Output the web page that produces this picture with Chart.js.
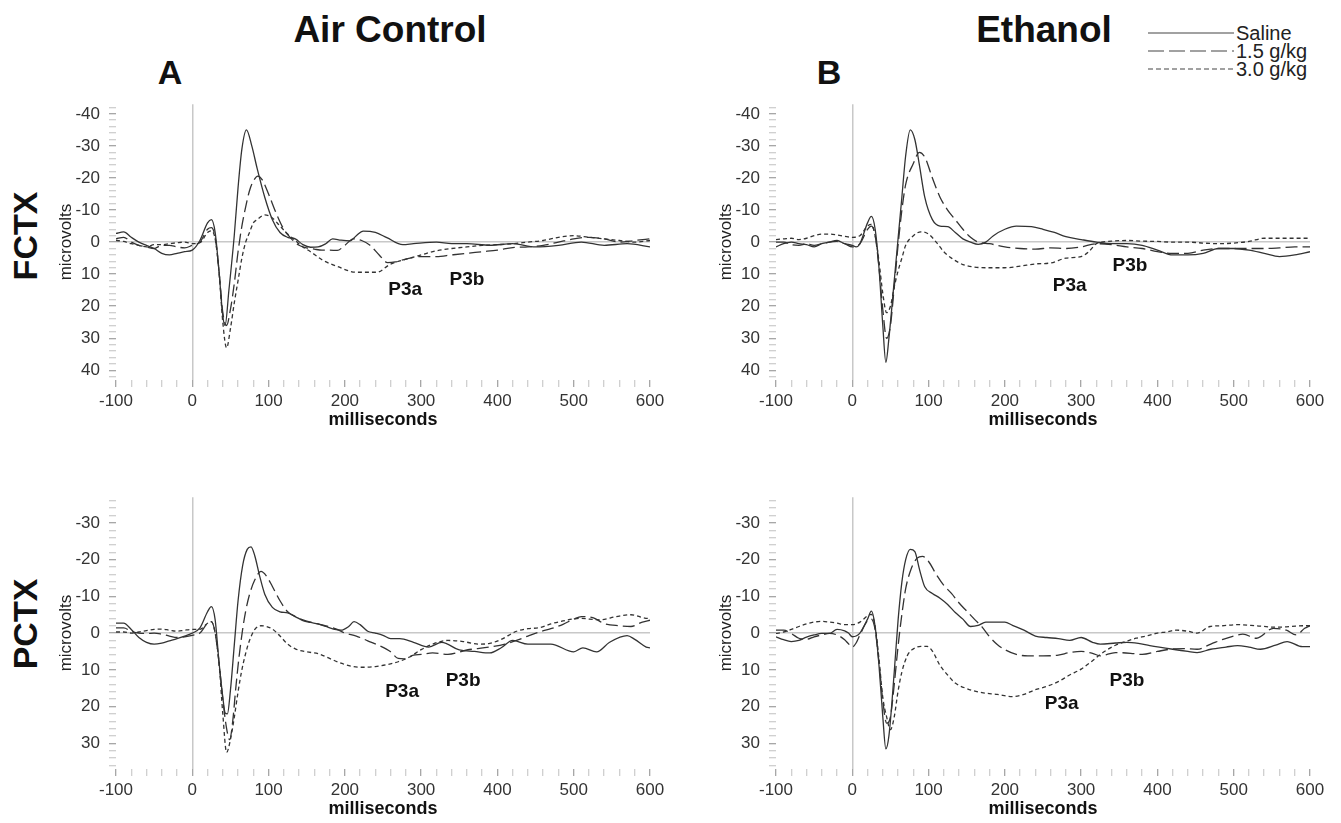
<!DOCTYPE html>
<html>
<head>
<meta charset="utf-8">
<script src="https://cdn.jsdelivr.net/npm/chart.js"></script>
<style>
  body { margin: 0; width: 1341px; height: 823px; background: #fff; position: relative; overflow: hidden;
         font-family: "Liberation Sans", Arial, sans-serif; color: #111; }
  canvas { position: absolute; }
  .t { position: absolute; white-space: nowrap; transform: translate(-50%, -50%); font-weight: bold; }
  .rot { transform: translate(-50%, -50%) rotate(-90deg); }
  .leg { position: absolute; font-size: 20px; color: #222; transform: translateY(-50%); white-space: nowrap; }
</style>
</head>
<body>
<div class="t" style="left:390px;top:30px;font-size:37px">Air Control</div>
<div class="t" style="left:1044px;top:30px;font-size:37px">Ethanol</div>
<div class="t" style="left:170px;top:72px;font-size:34px">A</div>
<div class="t" style="left:829px;top:72px;font-size:34px">B</div>
<div class="t rot" style="left:25px;top:236px;font-size:34px">FCTX</div>
<div class="t rot" style="left:25px;top:624px;font-size:34px">PCTX</div>

<svg id="legendLines" style="position:absolute;left:1146px;top:22px" width="90" height="60"></svg>

<canvas id="fctxAir" width="620" height="347" style="left:50px;top:85px"></canvas>
<canvas id="fctxEth" width="620" height="347" style="left:710px;top:85px"></canvas>
<canvas id="pctxAir" width="620" height="343" style="left:50px;top:478px"></canvas>
<canvas id="pctxEth" width="620" height="343" style="left:710px;top:478px"></canvas>

<script>
const doseNames = ["Saline", "1.5 g/kg", "3.0 g/kg"];
const peakNames = ["P3a", "P3b"];
const msTicks = [-100, 0, 100, 200, 300, 400, 500, 600];
const fctxTicks = [-40, -30, -20, -10, 0, 10, 20, 30, 40];
const pctxTicks = [-30, -20, -10, 0, 10, 20, 30];

// [ms, microvolts]; negative is up on the reversed axis
const fctxAirSaline = [[-100,-2.7],[-90,-3.2],[-80,-1.5],[-70,0],[-60,1],[-50,2],[-40,3.5],[-30,4],[-20,3.5],[-10,3],[0,2.5],[10,-0.5],[20,-6],[25,-7],[30,-3],[35,9],[40,23],[43,26],[48,15],[55,-2],[60,-17],[65,-29],[71,-35],[78,-30],[85,-23],[95,-14],[105,-7],[115,-3],[125,-1.5],[135,-1],[145,0.8],[155,1.6],[165,1.5],[175,0.5],[184,-1],[195,-0.6],[207,-0.4],[215,-2],[224,-3.4],[240,-3],[255,-1.4],[276,0.8],[290,0.5],[320,0],[340,0.5],[360,0.5],[390,1],[420,0.5],[450,1.5],[480,1],[510,0],[540,1],[570,0.5],[600,1.5]];
const fctxAirLow = [[-100,-1],[-90,-1.5],[-80,0],[-70,1],[-60,1.5],[-50,2],[-40,1],[-30,1],[-20,1.5],[-10,1.8],[0,1],[10,0],[20,-4],[25,-4.5],[30,-1.5],[35,9],[40,22],[45,26],[50,21],[55,13],[60,3],[65,-5],[70,-11],[75,-16],[80,-19],[86,-20.6],[92,-19.3],[100,-15],[110,-9],[120,-4],[130,-1],[140,1],[150,1.8],[160,2.2],[170,2.5],[180,2.5],[190,2.6],[200,1],[211,-1],[222,-0.5],[233,1],[245,4],[256,6.4],[266,6.2],[280,5.3],[300,4.5],[320,4.5],[340,4],[360,3.5],[380,3],[400,2.5],[420,1.7],[440,1.5],[460,1],[480,0],[500,-1],[520,-1.5],[540,-1],[560,0],[580,-0.5],[600,-1]];
const fctxAirHigh = [[-100,-0.5],[-90,-0.2],[-80,0.5],[-70,1],[-60,1.5],[-50,0.8],[-40,0.8],[-30,0.5],[-20,0.2],[-10,0],[0,0.5],[10,0.2],[20,-3],[25,-3.5],[30,-1],[35,9],[40,25],[45,33],[50,27],[55,19],[60,12],[65,5],[70,0],[75,-3],[80,-6],[85,-7],[95,-8.5],[105,-7.5],[115,-5],[125,-2.5],[135,-0.5],[145,1.5],[155,3],[170,5.5],[190,7.6],[215,9.4],[242,9.4],[259,7],[285,5],[300,4],[320,2.7],[340,2],[360,1.5],[380,1],[400,0.8],[420,0.5],[440,0],[460,-0.5],[480,-1.5],[500,-2],[520,-1.5],[540,-1],[560,-0.5],[580,0],[600,-0.5]];

const fctxEthSaline = [[-100,1.5],[-90,0.5],[-80,0],[-70,0.5],[-60,0.8],[-50,1.5],[-40,0.5],[-30,0],[-20,-0.5],[-10,0.5],[0,1],[5,1.5],[10,0.5],[20,-6],[25,-8],[30,-4],[35,8],[40,26],[44,37.5],[48,30],[55,12],[60,-1],[65,-14],[70,-27],[76,-35],[82,-32],[88,-24],[95,-14],[105,-7],[115,-5],[125,-4.8],[135,-3],[145,-1],[155,0],[165,0.7],[175,0],[185,-2],[200,-4],[215,-5],[235,-4.8],[250,-4],[265,-3],[280,-1.7],[300,-0.8],[320,0],[340,0.5],[360,0.5],[380,1],[400,2.5],[420,4],[440,4],[460,3.5],[480,2],[500,2],[520,2.5],[540,3.5],[560,4.5],[580,4],[600,3]];
const fctxEthLow = [[-100,0],[-90,0],[-80,0.8],[-70,1],[-60,0.5],[-50,1],[-40,0.5],[-30,0],[-20,-0.2],[-10,0.5],[0,1.5],[10,0.5],[20,-4],[25,-5],[30,-2],[35,8],[40,21],[45,30],[50,26],[55,14],[60,1],[65,-10],[70,-18],[80,-24.5],[88,-28],[95,-26.5],[105,-20],[115,-14],[125,-10],[135,-7],[145,-4],[155,-1.5],[165,0],[180,0.5],[200,1.5],[220,2],[240,2.2],[260,1.8],[280,2],[300,1.5],[320,0.5],[340,0.8],[360,1.5],[380,2],[400,3],[420,3.5],[440,3.5],[460,2.5],[480,2],[500,2],[520,2],[540,2],[560,1.8],[580,1.5],[600,1.5]];
const fctxEthHigh = [[-100,-0.8],[-90,-1],[-80,-1.2],[-70,-0.8],[-60,-1.2],[-50,-2],[-40,-2.5],[-30,-2.5],[-20,-2.2],[-10,-1.8],[0,-1.5],[10,-2],[20,-5],[25,-5.5],[30,-2],[35,6],[40,16],[45,22],[50,20],[55,14],[60,9],[65,5],[70,1],[80,-2],[90,-3.2],[100,-2.5],[110,0],[120,3],[130,5],[145,7],[160,7.8],[180,8],[200,8],[220,7.5],[240,6.8],[260,6.5],[280,5],[300,4.5],[310,3],[320,0.5],[340,-0.3],[360,-0.5],[380,-0.3],[400,-0.2],[420,0],[440,0],[460,0.3],[480,0.5],[500,0.3],[520,-0.2],[540,-1.2],[560,-1.2],[580,-1.2],[600,-1.2]];

const pctxAirSaline = [[-100,-2.7],[-90,-2.7],[-80,-1],[-70,1.2],[-60,2.5],[-50,3],[-40,2.7],[-30,2.1],[-20,1.5],[-10,0.8],[0,0],[10,-1.4],[20,-5.8],[25,-7.2],[30,-3.6],[35,7.8],[40,17.4],[43,21.7],[46,22],[50,15.6],[55,3.4],[60,-8.8],[66,-18.4],[72,-22.8],[77,-23.5],[82,-21],[88,-15.8],[95,-10.6],[105,-7],[115,-5.8],[125,-5.5],[135,-4.5],[145,-3.4],[155,-2.9],[165,-2.5],[175,-1.8],[185,-1.1],[195,-0.8],[205,-1.8],[212,-3.1],[220,-2.3],[230,-0.5],[240,0],[250,0.6],[260,1.5],[272,1.5],[290,2.5],[310,3.8],[327,2.5],[350,4.6],[370,5],[390,5.4],[405,4],[420,2],[440,3],[470,3],[500,5.1],[512,4],[530,5.1],[547,2.5],[570,0.7],[580,1.7],[595,3.8],[600,4]];
const pctxAirLow = [[-100,-1.4],[-90,-1.4],[-80,-0.5],[-70,0],[-60,0.1],[-50,0],[-40,0.3],[-30,0.8],[-20,1.2],[-10,1],[0,0.6],[10,0],[20,-2.7],[25,-3.1],[30,0],[35,8],[40,18],[45,26],[49,29],[53,24],[57,15],[61,7],[66,-1],[70,-6],[75,-10.5],[82,-14.5],[90,-16.8],[97,-15.6],[105,-12.7],[115,-8.8],[125,-5.8],[135,-4.5],[145,-3.6],[160,-2.7],[175,-2],[190,-1],[200,0],[215,0.8],[230,2.1],[245,3.4],[260,5.1],[270,6.9],[278,7],[290,6],[300,5.8],[315,5.4],[335,5.8],[360,4.6],[390,3.8],[410,3],[425,2],[440,0.8],[456,-0.4],[470,-1.2],[486,-2.4],[500,-3.8],[510,-4.5],[525,-4.2],[540,-2.6],[560,-2],[575,-1.8],[590,-3],[600,-3.5]];
const pctxAirHigh = [[-100,-0.3],[-90,-0.3],[-80,0],[-70,-0.3],[-60,-0.7],[-50,-1],[-40,-1.1],[-30,-0.8],[-20,-0.5],[-10,-0.8],[0,-1],[10,-1],[20,-2.7],[25,-3.1],[30,0],[35,8],[40,22],[45,32.5],[50,29],[55,23],[60,16],[65,10],[70,5.5],[75,2],[82,-1],[90,-2],[97,-1.8],[105,-1.1],[115,0.8],[125,3],[135,4.3],[150,5.1],[165,5.6],[180,6.9],[195,8.2],[210,9.1],[225,9.3],[240,9.1],[255,8.6],[270,7.8],[285,6.5],[300,4.5],[315,3],[335,2],[355,2.3],[375,3],[390,2.8],[405,1.7],[425,-0.5],[440,-1.2],[456,-1.5],[470,-2.5],[486,-3.3],[508,-4],[534,-3.6],[556,-4.5],[575,-5],[593,-4.1],[600,-4]];

const pctxEthSaline = [[-100,1],[-90,1.8],[-80,2.3],[-70,2],[-60,1.1],[-50,0.5],[-40,0.1],[-30,0.1],[-20,-1],[-10,-0.6],[-5,0],[0,1],[5,0.8],[10,0],[20,-3.8],[25,-6],[30,-1.7],[35,8.8],[40,22.8],[44,31.5],[48,28],[55,10.6],[60,-3.4],[65,-13.9],[70,-20],[76,-22.8],[82,-22.2],[88,-17.4],[95,-12.6],[105,-10.8],[115,-9.5],[125,-7.8],[135,-5.6],[145,-3.8],[155,-1.8],[165,-2.1],[175,-3],[190,-3],[200,-3],[210,-2.1],[225,-0.8],[240,0.8],[255,1.2],[270,1.5],[285,2],[300,1.2],[315,2.5],[325,3],[345,2.7],[360,2.5],[375,2.8],[390,3.4],[420,4.4],[440,5],[452,5.3],[470,4.4],[490,3.8],[505,3.4],[520,3.8],[535,4.4],[555,3.3],[570,2.3],[590,3.7],[600,3.7]];
const pctxEthLow = [[-100,-0.8],[-90,-0.8],[-80,0.1],[-70,1.4],[-60,1.7],[-50,1],[-40,0.5],[-30,0.1],[-20,0.5],[-10,1.8],[-5,2.9],[0,3.8],[5,2.7],[10,0.5],[20,-3.4],[25,-3.8],[30,-0.8],[35,7.9],[40,18.4],[45,24.5],[50,22.8],[55,14],[60,3.6],[65,-5.1],[70,-12.1],[77,-17.4],[85,-20.4],[92,-20.9],[100,-19.5],[110,-16],[120,-13],[130,-10.8],[140,-8.2],[150,-6],[160,-3.8],[170,-1.7],[180,1],[190,3.1],[200,4.5],[215,5.8],[230,6.2],[250,6.2],[270,6],[285,5.3],[300,5],[315,5.5],[325,6.2],[345,5.3],[365,5.5],[380,5.8],[400,5],[416,4.4],[435,4.2],[452,4.4],[470,3],[486,1.7],[500,0.8],[512,0.3],[530,1.4],[552,-1.3],[569,-0.8],[582,0.5],[593,-1.3],[600,-2]];
const pctxEthHigh = [[-100,0.1],[-90,-0.3],[-80,-1],[-70,-1.8],[-60,-2.5],[-50,-3],[-40,-3.2],[-30,-3],[-20,-2.7],[-10,-2.3],[0,-2.3],[10,-3],[20,-4.7],[25,-5.1],[30,-1.7],[35,7],[40,17.5],[45,22.8],[50,26.3],[55,22.8],[60,15.8],[65,10.6],[72,6.2],[80,4.3],[90,3.6],[98,3.6],[105,4.9],[115,8.8],[125,11.4],[135,13.6],[150,15.1],[170,16.2],[190,16.7],[210,17.3],[225,16.7],[240,15.4],[255,14.5],[270,13.2],[285,11.4],[300,9.8],[315,7.5],[325,5.8],[345,3.3],[360,2.2],[372,1.4],[385,0.8],[400,0],[412,-0.3],[425,-0.8],[440,-0.5],[452,0],[469,-1.8],[485,-2],[504,-2.3],[530,-2],[556,-1.6],[575,-1.8],[593,-2],[600,-2]];

// where the P3a / P3b labels sit, in [ms, microvolts]
const fctxAirPeaks = [[279, 14.8], [360, 11.8]];
const fctxEthPeaks = [[285, 13.6], [364, 7.3]];
const pctxAirPeaks = [[275, 15.9], [355, 13.0]];
const pctxEthPeaks = [[274.5, 19.3], [360, 13.0]];

Chart.defaults.font.family = "'Liberation Sans', Arial, sans-serif";
Chart.defaults.color = "#333";

const lineStyles = [
  { borderDash: [] },
  { borderDash: [12, 5] },
  { borderDash: [4, 3] }
];

const steps = (min, max, step) => {
  const out = [];
  for (let v = Math.ceil(min / step) * step; v <= max; v += step) out.push(v);
  return out;
};

const peakLabels = {
  id: "peakLabels",
  afterDatasetsDraw(chart, args, opts) {
    const { ctx, scales: { x, y } } = chart;
    ctx.save();
    ctx.font = "bold 19px 'Liberation Sans', Arial, sans-serif";
    ctx.fillStyle = "#111";
    ctx.textAlign = "center";
    ctx.textBaseline = "middle";
    opts.points.forEach((p, i) => {
      ctx.fillText(peakNames[i], x.getPixelForValue(p[0]), y.getPixelForValue(p[1]));
    });
    ctx.restore();
  }
};

function makePanel(id, series, yTicks, yMax, peaks) {
  new Chart(document.getElementById(id), {
    type: "line",
    data: {
      datasets: series.map((s, i) => ({
        label: doseNames[i],
        data: s.map(([x, y]) => ({ x, y })),
        borderColor: "#333",
        borderWidth: 1.3,
        pointRadius: 0,
        cubicInterpolationMode: "monotone",
        ...lineStyles[i]
      }))
    },
    options: {
      responsive: false,
      animation: false,
      layout: { padding: { left: 0, right: 20, top: 8, bottom: 0 } },
      plugins: {
        legend: { display: false },
        tooltip: { enabled: false },
        peakLabels: { points: peaks }
      },
      scales: {
        x: {
          type: "linear",
          min: -100,
          max: 600,
          afterBuildTicks: s => { s.ticks = steps(-100, 600, 20).map(v => ({ value: v })); },
          afterFit: s => { s.height = 52; },
          border: { display: false },
          ticks: {
            autoSkip: false, maxRotation: 0, padding: 4, font: { size: 17 },
            callback: v => msTicks.includes(v) ? String(v) : ""
          },
          grid: {
            color: c => c.tick && c.tick.value === 0 ? "#c8c8c8" : "rgba(0,0,0,0)",
            lineWidth: 1.5,
            tickColor: c => c.tick && msTicks.includes(c.tick.value) ? "#8a8a8a" : "#c0c0c0",
            tickLength: 7,
            tickWidth: 1
          },
          title: {
            display: true, text: "milliseconds", color: "#111",
            font: { size: 18, weight: "bold" }, padding: { top: 0, bottom: 1 }
          }
        },
        y: {
          type: "linear",
          reverse: true,
          min: -yMax,
          max: yMax,
          afterBuildTicks: s => { s.ticks = steps(-yMax, yMax, 2).map(v => ({ value: v })); },
          afterFit: s => { s.width = 66; },
          border: { display: false },
          ticks: {
            autoSkip: false, padding: 9, font: { size: 17 },
            callback: v => yTicks.includes(v) ? String(v) : ""
          },
          grid: {
            color: c => c.tick && c.tick.value === 0 ? "#c8c8c8" : "rgba(0,0,0,0)",
            lineWidth: 1.5,
            tickColor: c => c.tick && yTicks.includes(c.tick.value) ? "#8a8a8a" : "#c0c0c0",
            tickLength: 7,
            tickWidth: 1
          },
          title: {
            display: true, text: "microvolts", color: "#222",
            font: { size: 17 }, padding: { top: 6, bottom: 0 }
          }
        }
      }
    },
    plugins: [peakLabels]
  });
}

makePanel("fctxAir", [fctxAirSaline, fctxAirLow, fctxAirHigh], fctxTicks, 43, fctxAirPeaks);
makePanel("fctxEth", [fctxEthSaline, fctxEthLow, fctxEthHigh], fctxTicks, 43, fctxEthPeaks);
makePanel("pctxAir", [pctxAirSaline, pctxAirLow, pctxAirHigh], pctxTicks, 37, pctxAirPeaks);
makePanel("pctxEth", [pctxEthSaline, pctxEthLow, pctxEthHigh], pctxTicks, 37, pctxEthPeaks);

// legend, drawn by hand at top right
const svg = document.getElementById("legendLines");
const legendDash = ["", "16 5", "5 3"];
doseNames.forEach((name, i) => {
  const yy = 11 + i * 18;
  const ln = document.createElementNS("http://www.w3.org/2000/svg", "line");
  ln.setAttribute("x1", 2); ln.setAttribute("x2", 88);
  ln.setAttribute("y1", yy); ln.setAttribute("y2", yy);
  ln.setAttribute("stroke", "#444");
  ln.setAttribute("stroke-width", "1.2");
  if (legendDash[i]) ln.setAttribute("stroke-dasharray", legendDash[i]);
  svg.appendChild(ln);
  const txt = document.createElement("div");
  txt.className = "leg";
  txt.style.left = "1236px";
  txt.style.top = (22 + yy) + "px";
  txt.textContent = name;
  document.body.appendChild(txt);
});
</script>
</body>
</html>
